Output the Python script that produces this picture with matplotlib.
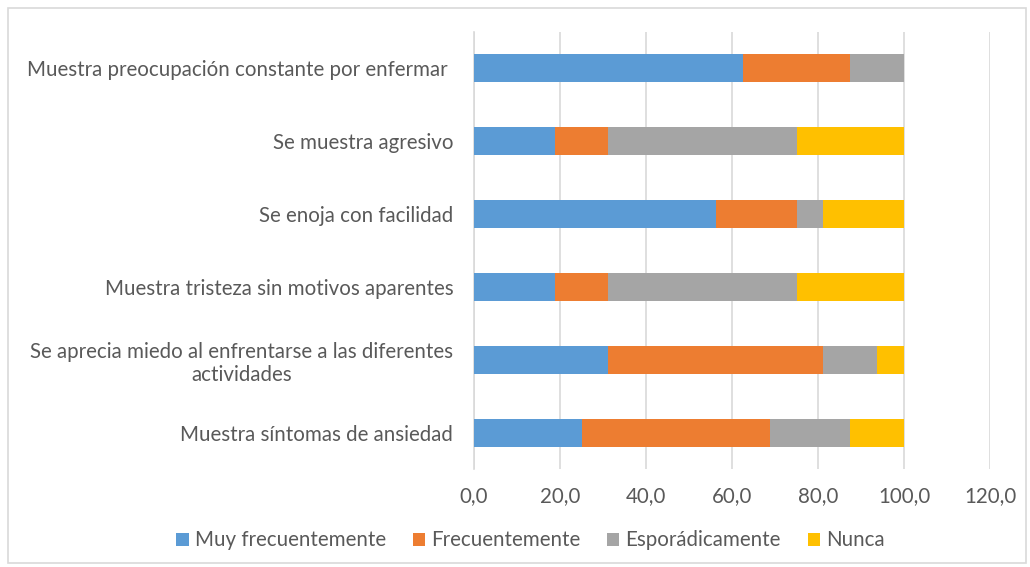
import matplotlib.pyplot as plt
from matplotlib.patches import Rectangle
from matplotlib.ticker import FuncFormatter

plt.rcParams['font.family'] = ['Lato', 'DejaVu Sans']

categories = [
    'Muestra síntomas de ansiedad',
    'Se aprecia miedo al enfrentarse a las diferentes\nactividades',
    'Muestra tristeza sin motivos aparentes',
    'Se enoja con facilidad',
    'Se muestra agresivo',
    'Muestra preocupación constante por enfermar ',
]
muy = [25.0, 31.25, 18.75, 56.25, 18.75, 62.5]
frec = [43.75, 50.0, 12.5, 18.75, 12.5, 25.0]
espor = [18.75, 12.5, 43.75, 6.25, 43.75, 12.5]
nunca = [12.5, 6.25, 25.0, 18.75, 25.0, 0.0]

series = [
    ('Muy frecuentemente', muy, '#5B9BD5'),
    ('Frecuentemente', frec, '#ED7D31'),
    ('Esporádicamente', espor, '#A5A5A5'),
    ('Nunca', nunca, '#FFC000'),
]

text_color = '#595959'
fs = 14.8

fig = plt.figure(figsize=(10.3, 5.67), dpi=100)
ax = fig.add_axes([0.4602, 0.172, 0.5010, 0.7724])

y = range(len(categories))
left = [0.0] * len(categories)
for name, vals, col in series:
    ax.barh(y, vals, left=left, height=0.38, color=col, label=name, zorder=3)
    left = [a + b for a, b in zip(left, vals)]

ax.set_xlim(0, 120)
ax.set_ylim(-0.5, len(categories) - 0.5)
ax.set_xticks(range(0, 121, 20))
ax.xaxis.set_major_formatter(FuncFormatter(lambda v, p: f'{v:.1f}'.replace('.', ',')))
ax.set_yticks(list(y))
ax.set_yticklabels(categories, multialignment='center', linespacing=1.2)

ax.grid(axis='x', color='#D9D9D9', linewidth=1.2, zorder=0)
for s in ['top', 'right', 'bottom']:
    ax.spines[s].set_visible(False)
ax.spines['left'].set_color('#D9D9D9')
ax.spines['left'].set_linewidth(1.2)
ax.tick_params(axis='both', length=0, colors=text_color, labelsize=fs)
ax.tick_params(axis='y', pad=15)
ax.tick_params(axis='x', pad=12)

ax.legend(loc='center', bbox_to_anchor=(0.515, 0.047), bbox_transform=fig.transFigure,
          ncol=4, frameon=False, fontsize=fs, labelcolor=text_color,
          handlelength=0.6, handleheight=0.6, handletextpad=0.3, columnspacing=1.3)

fig.patches.append(Rectangle((8 / 1030, 4 / 567), 1018 / 1030, 555 / 567,
                             transform=fig.transFigure, fill=False,
                             edgecolor='#D9D9D9', linewidth=1.2))

fig.savefig('out.png', dpi=100)
